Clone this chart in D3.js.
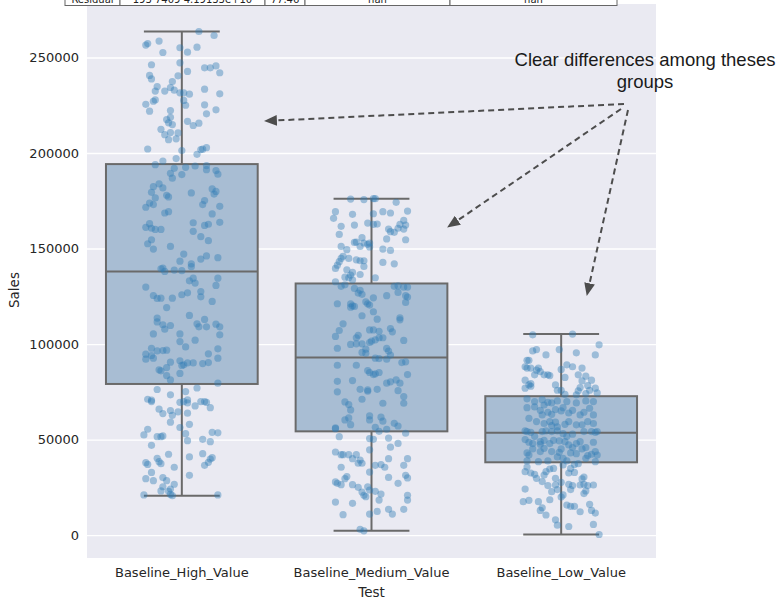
<!DOCTYPE html>
<html>
<head>
<meta charset="utf-8">
<script src="https://cdn.jsdelivr.net/npm/d3@7"></script>
<style>
  body { margin: 0; background: #ffffff; }
  svg { display: block; }
</style>
</head>
<body>
<svg id="chart" width="780" height="599"></svg>
<script>
// ---- Data -------------------------------------------------------------
const categories = ["Baseline_High_Value", "Baseline_Medium_Value", "Baseline_Low_Value"];

// Box statistics per test group
const whiskerLow  = [20600, 2200, 300];
const quartile1   = [79100, 54300, 38100];
const medians     = [138000, 92900, 53500];
const quartile3   = [194200, 131700, 72700];
const whiskerHigh = [263600, 176100, 105200];

const yTicks = [0, 50000, 100000, 150000, 200000, 250000];

// Individual observations: [sales, horizontal jitter in band units]
const highPoints = [
  [263600,0.09],[261500,0.17],[256500,-0.19],[257300,-0.18],[258600,-0.12],[252600,-0.10],[255100,-0.01],[252800,0.03],[255400,0.08],
  [246200,-0.16],[247200,-0.01],[244600,0.12],[244600,0.15],[245600,0.18],[242000,0.20],[240600,-0.17],[238800,-0.16],[240400,-0.02],[242700,0.03],
  [237400,-0.05],[234800,-0.13],[234300,-0.06],[232400,-0.09],[232400,-0.14],[232900,-0.04],[231500,-0.01],[231500,0.01],[230800,0.04],[233400,0.12],[231000,0.20],
  [225500,-0.19],[221900,-0.17],[227100,-0.15],[227800,-0.14],[227500,0.01],[225000,0.02],[225200,0.12],[222600,0.18],[220500,0.13],
  [222200,-0.06],[218700,-0.06],[217500,-0.08],[215800,-0.07],[214900,-0.05],[216600,0.03],[214400,0.06],[215600,0.09],
  [212400,-0.11],[209600,-0.09],[210700,-0.06],[210500,-0.02],[207000,-0.07],[207400,-0.03],
  [202100,-0.18],[201300,0.00],[199300,0.08],[201800,0.10],[202000,0.11],[202800,0.13],
  [197100,-0.03],[195800,-0.10],[193900,-0.14],[192000,-0.04],[188700,0.00],[189400,-0.06],[186800,-0.05],[192500,0.02],[193200,0.07],[193400,0.13],[191300,0.13],[190800,0.18],[188900,0.19],
  [183800,-0.12],[182400,-0.15],[181700,-0.10],[179400,-0.16],[176500,-0.14],[177900,-0.08],[177000,-0.07],[179100,0.05],[175100,0.12],[173000,0.11],[181200,0.16],[179900,0.18],[178500,0.17],[173800,-0.17],[173000,-0.15],[171600,-0.19],[172100,0.20],
  [168600,-0.09],[169300,-0.07],[168100,0.16],[163500,0.06],[163000,-0.17],[161100,-0.19],[160600,-0.16],[160000,-0.14],[160000,-0.11],[159000,0.06],[162100,0.12],[162700,0.14],[163700,0.20],
  [154600,-0.16],[152500,-0.18],[149700,-0.15],[156200,0.10],[154100,0.14],[151100,-0.06],[147100,0.01],[143400,-0.01],[144500,0.10],[146100,0.13],[145200,0.19],[142000,0.05],
  [139800,-0.10],[139400,-0.11],[138000,-0.09],[138700,-0.04],[138400,0.00],[140500,0.05],[134500,0.06],[133100,0.04],[131900,0.07],[134500,0.19],[129800,-0.19],[130700,0.18],
  [125400,-0.15],[123900,-0.13],[124000,-0.11],[124000,-0.05],[125800,0.00],[126800,0.03],[127500,0.10],[124700,0.10],[122300,0.16],
  [119100,-0.08],[113600,-0.13],[111600,-0.13],[110100,-0.10],[107800,-0.09],[109700,-0.06],[115000,0.04],[110600,0.08],[109000,0.09],[112900,0.12],[109000,0.13],[110400,0.18],[109000,0.20],[104800,0.20],
  [105300,-0.15],[105300,-0.01],[101300,-0.01],[98500,0.02],[102000,0.07],
  [97800,-0.16],[96400,-0.13],[96600,-0.10],[96800,-0.08],[94700,-0.19],[92100,-0.19],[94000,-0.16],[92600,-0.15],[94900,0.14],[97500,0.19],[92600,0.19],
  [86500,-0.12],[86000,-0.11],[87700,-0.08],[90500,-0.06],[91200,-0.01],[88800,0.00],[89100,0.01],[90100,0.03],[90100,0.06],[89800,0.11],[90300,0.14],
  [83500,-0.08],[81200,-0.06],[84600,-0.01],
  [76200,-0.13],[73400,-0.06],[77000,0.08],[79500,0.19],[75100,0.02],
  [71100,-0.18],[69900,-0.16],[70600,-0.16],[65900,-0.12],[63600,-0.10],[65200,-0.06],[62700,-0.05],[64500,-0.02],[69500,-0.01],[69900,0.01],[70800,0.03],[69200,0.03],[67600,0.07],[69900,0.10],[69900,0.12],[69500,0.13],[66700,0.15],[63800,0.03],
  [55400,-0.18],[52400,-0.20],[59100,-0.06],[56300,-0.01],[58000,0.04],[53100,0.02],[49400,0.03],[53800,0.16],[53500,0.19],[50100,0.11],[48900,0.15],
  [51500,-0.13],[51500,-0.11],[51900,-0.10],[47000,-0.16],
  [37900,-0.19],[37000,-0.18],[40200,-0.13],[38400,-0.12],[37400,-0.11],[42300,-0.07],[35500,-0.04],[40900,0.04],[42600,0.11],[39800,0.15],[38100,0.14],[40500,0.16],[36500,0.12],
  [29500,-0.19],[28500,-0.15],[32800,-0.16],[30100,-0.10],[28500,-0.08],[26600,-0.04],[24100,-0.06],[22900,-0.07],[25300,-0.10],[23100,-0.11],[31300,0.04],
  [21000,-0.20],[21300,-0.06],[20600,-0.05],[21000,0.19]
];

const mediumPoints = [
  [175900,-0.11],[175600,-0.04],[176100,0.01],[176100,0.02],[174200,0.13],[169300,-0.19],[165800,-0.20],[167900,-0.10],[168200,0.01],[169300,0.06],[168600,0.10],[169600,0.19],
  [161600,-0.16],[162300,-0.09],[163300,-0.02],[162600,0.01],[162800,0.03],[160200,0.09],[158800,0.10],[158500,0.12],[160600,0.14],[162600,0.15],[164700,0.17],[162300,0.18],[160200,0.17],
  [157400,-0.17],[155700,-0.05],[155000,0.08],[154600,0.18],[153200,-0.09],[153400,-0.08],[152900,-0.04],[152200,-0.02],[152900,-0.01],
  [151100,-0.16],[149400,-0.13],[151100,-0.06],[150800,-0.01],[149700,0.06],[149000,0.10],
  [145900,-0.15],[144800,-0.16],[143100,-0.17],[144800,-0.12],[144100,-0.08],[143600,-0.06],[143600,-0.04],[140600,-0.04],[142700,0.06],[142000,0.12],
  [139600,-0.19],[141300,-0.18],[138900,-0.13],[137500,-0.10],[136100,-0.11],[136400,-0.06],[135000,-0.14],[134700,-0.12],[133600,-0.10],[132600,-0.19],[130200,-0.16],[134700,0.02],
  [131000,-0.14],[129100,-0.09],[126700,-0.07],[128100,-0.06],[126000,-0.05],[125300,0.08],[130200,0.12],[130500,0.14],[129800,0.17],[129800,0.19],[127000,0.14],[125300,0.18],[124600,0.19],[121800,0.18],
  [121100,-0.18],[121100,-0.11],[119300,-0.11],[120000,-0.10],[119700,-0.09],[122100,-0.03],[121100,-0.02],[120400,-0.01],[124200,0.01],[116900,0.01],[114800,-0.05],[113000,0.03],[113700,0.15],[112700,0.15],
  [110600,-0.15],[107100,-0.17],[104000,-0.19],[97800,-0.18],[99800,-0.11],[104600,-0.07],[103300,-0.08],[100100,-0.08],[100100,-0.05],[95600,-0.05],[95200,-0.03],[97300,-0.03],
  [107400,-0.01],[100800,-0.01],[101500,0.00],[107400,0.01],[106700,0.04],[103300,0.04],[102200,0.02],[103300,0.06],[108100,0.10],[106400,0.11],[101900,0.17],[97700,0.08],[96300,0.09],[92100,0.08],[94200,0.10],
  [88900,-0.18],[88900,-0.08],[92600,0.02],[92400,0.04],[90300,0.16],[90700,0.18],[84000,0.19],
  [80900,-0.10],[80500,-0.18],[75000,-0.18],[68300,-0.12],[69700,-0.14],[65500,-0.11],[76300,-0.06],[76000,-0.02],[75300,-0.02],[85100,-0.01],[86100,-0.02],[84000,0.01],[84400,0.02],[85100,0.04],
  [79500,0.08],[80200,0.10],[81200,0.13],[79500,0.15],[75600,0.14],[72500,0.17],[69000,0.17],[69000,0.06],[76300,0.03],[71100,-0.05],
  [61300,-0.12],[60300,-0.14],[57800,-0.11],[62400,-0.01],[60300,-0.01],[56400,0.02],[61700,0.05],[59600,0.06],[58500,0.12],[57100,0.14],
  [55700,-0.19],[51500,-0.17],[56100,-0.19],[50500,-0.01],[50100,0.01],[54300,0.04],[55400,0.08],[50800,0.09],[48000,0.14],[53300,0.18],[46000,0.10],
  [43500,-0.19],[42100,-0.16],[42100,-0.15],[42100,-0.12],[40000,-0.10],[42100,-0.08],[39300,-0.06],[37600,-0.07],[37600,-0.05],[44600,-0.01],[36500,0.02],[36900,0.05],[35500,0.07],[40000,0.09],[40000,0.19],[36500,0.17],
  [35500,-0.16],[30600,-0.13],[29500,-0.14],[27800,-0.19],[27100,-0.18],[26400,-0.16],[26400,-0.10],[25000,-0.07],[33000,-0.01],[30200,0.09],[27100,0.14],[31300,0.18],[29900,0.19],
  [22500,-0.05],[25300,-0.02],[20800,-0.04],[20100,-0.03],[23600,-0.01],[22900,0.02],[21500,0.05],[18300,0.04],[20800,0.19],[18300,0.19],[17300,-0.19],[16600,-0.10],
  [11000,-0.01],[12400,0.03],[13500,0.09],[11000,0.11],[13500,0.17],[10700,-0.15],
  [3000,-0.06],[2200,-0.04]
];

const lowPoints = [
  [104800,-0.15],[105200,0.06],[99600,0.20],[94300,0.18],[96400,-0.15],[97100,-0.13],[94300,-0.08],[97100,-0.01],[95400,0.08],
  [91500,-0.18],[91500,-0.17],[88100,-0.19],[87400,-0.18],[87400,-0.16],[86300,-0.13],[87400,-0.12],[85600,-0.11],[83900,-0.14],[83900,-0.09],[83900,-0.07],[83500,-0.06],
  [86700,0.00],[89100,0.03],[82500,0.02],[88100,0.06],[87400,0.11],[83900,0.09],[83200,0.13],[80700,0.11],[81100,0.16],
  [81100,-0.19],[76900,-0.19],[78600,-0.17],[77900,-0.16],[79300,-0.16],[78600,-0.03],[75800,-0.02],[75800,0.00],[73700,0.02],[73400,0.08],[75500,0.09],[77200,0.10],[78300,0.14],[75800,0.15],[76900,0.18],[74400,0.19],[74100,0.13],
  [71300,-0.18],[69900,-0.14],[67100,-0.14],[70900,-0.10],[68100,-0.09],[69500,-0.07],[69200,-0.05],[70200,-0.02],[69900,0.03],[69200,0.08],[70200,0.13],[69900,0.17],
  [66700,-0.18],[65300,-0.11],[62900,-0.10],[64300,-0.07],[63200,-0.05],[65700,-0.03],[65000,0.00],[66700,0.01],[63900,0.04],[65300,0.06],[62900,0.10],[64300,0.12],[66400,0.15],[62900,0.17],
  [61100,-0.17],[59400,-0.13],[58400,-0.09],[59400,-0.06],[57300,-0.05],[59100,-0.03],[56600,-0.02],[58000,0.02],[59400,0.04],[57700,0.08],[57700,0.11],[59400,0.14],[58400,0.17],[54200,0.19],
  [54500,-0.19],[54200,-0.18],[53800,-0.16],[51700,-0.14],[54200,-0.10],[54500,-0.08],[54200,-0.05],[54500,-0.02],[53100,0.01],[51700,0.03],[52800,0.06],[54200,0.12],[53800,0.18],[54200,0.16],
  [50000,-0.19],[48600,-0.17],[47900,-0.15],[48900,-0.11],[47500,-0.11],[49600,-0.09],[47900,-0.06],[49600,-0.04],[49300,-0.01],[48900,0.02],[47200,0.04],[45800,0.06],[47900,0.08],[48900,0.10],[45800,0.13],[48600,0.17],
  [43000,-0.18],[41900,-0.17],[45100,-0.15],[43700,-0.11],[45400,-0.09],[43700,-0.05],[43300,-0.01],[45100,0.00],[43000,0.05],[42600,0.08],[45100,0.11],[41600,0.14],[42300,0.16],[43700,0.18],[41900,0.19],
  [38800,-0.18],[38400,-0.12],[38800,-0.07],[40900,-0.02],[40200,0.01],[38800,0.03],[37000,0.07],[37400,0.09],[40200,0.13],[38400,0.18],
  [35600,-0.18],[32500,-0.16],[31800,-0.14],[33200,-0.19],[29700,-0.13],[31400,-0.09],[33200,-0.08],[34600,-0.06],[34900,-0.04],[29700,-0.03],[36700,0.01],[34900,0.05],[32500,0.04],[32800,0.07],[29400,0.11],[30400,0.12],
  [28000,-0.10],[25900,-0.07],[26200,-0.03],[23800,-0.02],[27600,0.00],[26600,0.04],[23800,0.05],[25900,0.06],[26200,0.10],[26600,0.12],[25900,0.14],[23100,0.13],[26200,0.17],
  [24100,-0.19],[17500,-0.20],[18200,-0.17],[17500,-0.12],[18500,-0.06],[19900,0.00],[21000,0.01],[22700,-0.05],[21700,0.12],
  [14300,-0.10],[12900,-0.11],[10500,-0.08],[15700,0.03],[15000,0.05],[15000,0.07],[12200,0.10],[16100,0.15],[12900,0.16],[11500,0.18],
  [8000,-0.03],[5200,-0.02],[4500,0.04],[5600,0.17],[300,0.20]
];

const groupPoints = [highPoints, mediumPoints, lowPoints];

// Summary table row sitting above the axes
const tableCells = ["Residual", "193 7409 4.19133e+10", "77.46", "nan", "nan"];

const noteLines = ["Clear differences among theses", "groups"];

// ---- Layout ------------------------------------------------------------
const svg = d3.select("#chart");
const plot = { left: 87, right: 656, top: 4, bottom: 558 };
const font = "'DejaVu Sans', sans-serif";
const textColor = "#262626";
const edgeColor = "#6a6a6a";

const x = d3.scaleBand().domain(categories).range([plot.left, plot.right]).padding(0);
const y = d3.scaleLinear().domain([-12000, 278000]).range([plot.bottom, plot.top]);
const bw = x.bandwidth();
const boxW = bw * 0.8;

// Axes background
svg.append("rect")
  .attr("x", plot.left).attr("y", plot.top)
  .attr("width", plot.right - plot.left).attr("height", plot.bottom - plot.top)
  .attr("fill", "#EAEAF2");

// Horizontal grid
const grid = svg.append("g").attr("transform", `translate(${plot.left},0)`)
  .call(d3.axisLeft(y).tickValues(yTicks).tickSize(-(plot.right - plot.left)).tickFormat(""));
grid.select(".domain").remove();
grid.selectAll("line").attr("stroke", "#ffffff").attr("stroke-width", 1.3);

// Y axis labels
const yAxis = svg.append("g").attr("transform", `translate(${plot.left},0)`)
  .call(d3.axisLeft(y).tickValues(yTicks).tickSize(0).tickPadding(8).tickFormat(d3.format("d")));
yAxis.select(".domain").remove();
yAxis.selectAll("text").attr("font-family", font).attr("font-size", 13).attr("fill", textColor);

// X axis labels
const xAxis = svg.append("g").attr("transform", `translate(0,${plot.bottom})`)
  .call(d3.axisBottom(x).tickSize(0).tickPadding(10));
xAxis.select(".domain").remove();
xAxis.selectAll("text").attr("font-family", font).attr("font-size", 13).attr("fill", textColor);

// Axis titles
svg.append("text")
  .attr("transform", `translate(19,290) rotate(-90)`)
  .attr("text-anchor", "middle")
  .attr("font-family", font).attr("font-size", 13.5).attr("fill", textColor)
  .text("Sales");
svg.append("text")
  .attr("x", (plot.left + plot.right) / 2).attr("y", 597)
  .attr("text-anchor", "middle")
  .attr("font-family", font).attr("font-size", 13.5).attr("fill", textColor)
  .text("Test");

// Box plots
const boxes = svg.append("g");
categories.forEach((cat, i) => {
  const cx = x(cat) + bw / 2;
  const g = boxes.append("g");
  const line = (x1, y1, x2, y2) => g.append("line")
    .attr("x1", x1).attr("y1", y1).attr("x2", x2).attr("y2", y2)
    .attr("stroke", edgeColor).attr("stroke-width", 2);
  // whiskers
  line(cx, y(whiskerLow[i]), cx, y(quartile1[i]));
  line(cx, y(quartile3[i]), cx, y(whiskerHigh[i]));
  // caps
  line(cx - boxW / 4, y(whiskerLow[i]), cx + boxW / 4, y(whiskerLow[i]));
  line(cx - boxW / 4, y(whiskerHigh[i]), cx + boxW / 4, y(whiskerHigh[i]));
  // box
  g.append("rect")
    .attr("x", cx - boxW / 2).attr("y", y(quartile3[i]))
    .attr("width", boxW).attr("height", y(quartile1[i]) - y(quartile3[i]))
    .attr("fill", "#A8BDD3").attr("stroke", edgeColor).attr("stroke-width", 2);
  // median
  line(cx - boxW / 2, y(medians[i]), cx + boxW / 2, y(medians[i]));
});

// Strip points
const dots = svg.append("g");
categories.forEach((cat, i) => {
  const cx = x(cat) + bw / 2;
  dots.selectAll(null).data(groupPoints[i]).enter().append("circle")
    .attr("cx", d => cx + d[1] * bw)
    .attr("cy", d => y(d[0]))
    .attr("r", 3.6)
    .attr("fill", "#2F7BB6")
    .attr("fill-opacity", 0.42);
});

// Table row clipped at the top edge
const tableEdges = [65, 120, 265, 305, 450, 617];
const table = svg.append("g");
tableCells.forEach((t, i) => {
  table.append("rect")
    .attr("x", tableEdges[i]).attr("y", -20)
    .attr("width", tableEdges[i + 1] - tableEdges[i]).attr("height", 25.5)
    .attr("fill", "#ffffff").attr("stroke", "#666666").attr("stroke-width", 1);
  table.append("text")
    .attr("x", (tableEdges[i] + tableEdges[i + 1]) / 2).attr("y", 2.5)
    .attr("text-anchor", "middle")
    .attr("font-family", font).attr("font-size", 10).attr("fill", "#222")
    .text(t);
});

// Annotation
const note = svg.append("text")
  .attr("text-anchor", "middle")
  .attr("font-family", "'Liberation Sans', Arial, sans-serif")
  .attr("font-size", 18.5).attr("fill", "#1a1a1a");
noteLines.forEach((l, i) => {
  note.append("tspan").attr("x", 645).attr("y", 66 + i * 22).text(l);
});

svg.append("defs").append("marker")
  .attr("id", "head")
  .attr("markerUnits", "userSpaceOnUse")
  .attr("viewBox", "0 0 12 10")
  .attr("refX", 11).attr("refY", 5)
  .attr("markerWidth", 13).attr("markerHeight", 11)
  .attr("orient", "auto")
  .append("path").attr("d", "M0,0 L12,5 L0,10 Z").attr("fill", "#4d4d4d");

const arrows = [
  [624, 104, 265, 121],
  [621, 109, 448, 227],
  [628, 110, 587, 295]
];
svg.append("g").selectAll("line").data(arrows).enter().append("line")
  .attr("x1", d => d[0]).attr("y1", d => d[1])
  .attr("x2", d => d[2]).attr("y2", d => d[3])
  .attr("stroke", "#4d4d4d").attr("stroke-width", 2)
  .attr("stroke-dasharray", "6,4")
  .attr("marker-end", "url(#head)");
</script>
</body>
</html>
